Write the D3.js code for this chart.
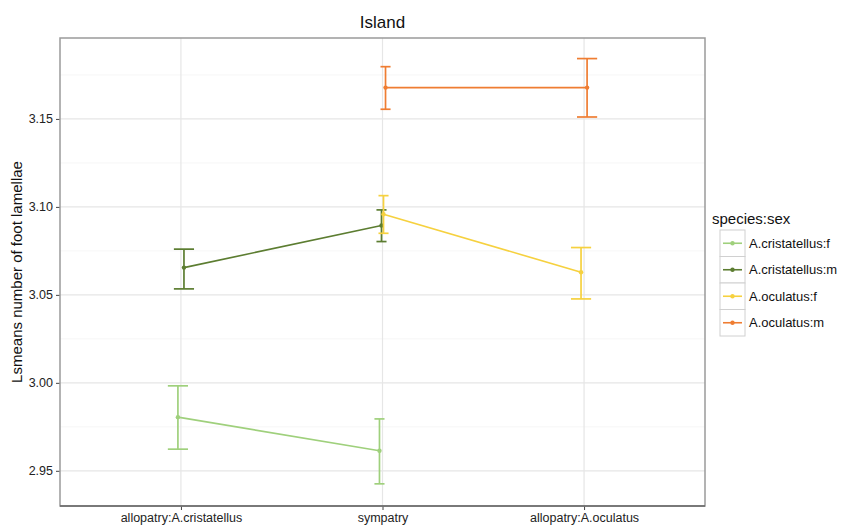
<!DOCTYPE html>
<html>
<head>
<meta charset="utf-8">
<script src="https://cdnjs.cloudflare.com/ajax/libs/d3/7.8.5/d3.min.js"></script>
<style>
body { margin: 0; background: #fff; }
text { font-family: "Liberation Sans", Arial, sans-serif; }
</style>
</head>
<body>
<script>
// categories on the x axis
var sites = ["allopatry:A.cristatellus", "sympatry", "allopatry:A.oculatus"];
// legend groups
var groups = ["A.cristatellus:f", "A.cristatellus:m", "A.oculatus:f", "A.oculatus:m"];
var groupColors = ["#9fd07c", "#5c7d31", "#f6d13f", "#ef7d32"];
// lsmeans and error bar ends, per group (null = not present at that site)
var cfMean = [2.9805, 2.9614, null];
var cfLow  = [2.9623, 2.9426, null];
var cfHigh = [2.9983, 2.9795, null];
var cmMean = [3.0655, 3.0894, null];
var cmLow  = [3.0534, 3.0803, null];
var cmHigh = [3.0760, 3.0983, null];
var ofMean = [null, 3.0958, 3.0629];
var ofLow  = [null, 3.0850, 3.0477];
var ofHigh = [null, 3.1064, 3.0769];
var omMean = [null, 3.1678, 3.1678];
var omLow  = [null, 3.1555, 3.1511];
var omHigh = [null, 3.1797, 3.1843];
var yTicks = [2.95, 3.00, 3.05, 3.10, 3.15];
var yMinor = [2.975, 3.025, 3.075, 3.125, 3.175];

var W = 844, H = 525;
// panel edges (note: "top" is taken by window.top)
var pLeft = 60, pRight = 705, pTop = 38, pBottom = 506;

var means = [cfMean, cmMean, ofMean, omMean];
var lows = [cfLow, cmLow, ofLow, omLow];
var highs = [cfHigh, cmHigh, ofHigh, omHigh];

// build rows for drawing
var series = [];
for (var g = 0; g < groups.length; g++) {
    var pts = [];
    for (var s = 0; s < sites.length; s++) {
        if (means[g][s] == null) continue;
        pts.push({site: sites[s], mean: means[g][s], low: lows[g][s], high: highs[g][s], g: g});
    }
    series.push({name: groups[g], color: groupColors[g], pts: pts});
}
// groups present at each site (for the small dodge)
var present = {};
sites.forEach(function(s, i){
    present[s] = [];
    for (var g = 0; g < groups.length; g++) if (means[g][i] != null) present[s].push(g);
});

var svg = d3.select("body").append("svg")
    .attr("width", W)
    .attr("height", H);

var x = d3.scalePoint().domain(sites).range([pLeft, pRight]).padding(0.6);
var y = d3.scaleLinear().domain([2.930, 3.196]).range([pBottom, pTop]);
var step = x.step();

function dodgeX(d) {
    var list = present[d.site];
    var k = list.indexOf(d.g);
    var w = 0.03 * step;
    var off = list.length > 1 ? (k / (list.length - 1) - 0.5) * w : 0;
    return x(d.site) + off;
}
function capW(d) {
    return 0.2 * step / present[d.site].length / 2;
}

// grid
svg.selectAll(".minor").data(yMinor).enter().append("line")
    .attr("x1", pLeft).attr("x2", pRight)
    .attr("y1", function(d){ return y(d); }).attr("y2", function(d){ return y(d); })
    .attr("stroke", "#f4f4f4").attr("stroke-width", 0.8);
svg.selectAll(".major").data(yTicks).enter().append("line")
    .attr("x1", pLeft).attr("x2", pRight)
    .attr("y1", function(d){ return y(d); }).attr("y2", function(d){ return y(d); })
    .attr("stroke", "#e6e6e6").attr("stroke-width", 1.2);
svg.selectAll(".vgrid").data(sites).enter().append("line")
    .attr("x1", function(d){ return x(d); }).attr("x2", function(d){ return x(d); })
    .attr("y1", pTop).attr("y2", pBottom)
    .attr("stroke", "#e6e6e6").attr("stroke-width", 1.2);

// axes
var yAxis = svg.append("g")
    .attr("transform", "translate(" + pLeft + ",0)")
    .call(d3.axisLeft(y).tickValues(yTicks).tickFormat(d3.format(".2f")).tickSize(4).tickPadding(3));
var xAxis = svg.append("g")
    .attr("transform", "translate(0," + pBottom + ")")
    .call(d3.axisBottom(x).tickSize(4).tickPadding(3));
[yAxis, xAxis].forEach(function(a){
    a.select(".domain").remove();
    a.selectAll("line").attr("stroke", "#444");
    a.selectAll("text").attr("fill", "#222").style("font-size", "12.5px")
        .style("font-family", "'Liberation Sans', Arial, sans-serif");
});

// panel border
svg.append("rect")
    .attr("x", pLeft).attr("y", pTop)
    .attr("width", pRight - pLeft).attr("height", pBottom - pTop)
    .attr("fill", "none").attr("stroke", "#9a9a9a").attr("stroke-width", 1.5);
svg.append("line")
    .attr("x1", pLeft).attr("x2", pRight).attr("y1", pBottom).attr("y2", pBottom)
    .attr("stroke", "#666").attr("stroke-width", 1.5);

// series
var line = d3.line().x(dodgeX).y(function(d){ return y(d.mean); });
var sg = svg.selectAll(".series").data(series).enter().append("g");

sg.append("path")
    .attr("d", function(d){ return line(d.pts); })
    .attr("fill", "none")
    .attr("stroke", function(d){ return d.color; })
    .attr("stroke-width", 1.6);

sg.each(function(sd){
    var gsel = d3.select(this);
    var bars = gsel.selectAll(".eb").data(sd.pts).enter().append("g")
        .attr("stroke", sd.color).attr("stroke-width", 1.7);
    bars.append("line")   // vertical part
        .attr("x1", dodgeX).attr("x2", dodgeX)
        .attr("y1", function(d){ return y(d.low); })
        .attr("y2", function(d){ return y(d.high); });
    bars.append("line")   // top cap
        .attr("x1", function(d){ return dodgeX(d) - capW(d); })
        .attr("x2", function(d){ return dodgeX(d) + capW(d); })
        .attr("y1", function(d){ return y(d.high); })
        .attr("y2", function(d){ return y(d.high); });
    bars.append("line")   // bottom cap
        .attr("x1", function(d){ return dodgeX(d) - capW(d); })
        .attr("x2", function(d){ return dodgeX(d) + capW(d); })
        .attr("y1", function(d){ return y(d.low); })
        .attr("y2", function(d){ return y(d.low); });
    gsel.selectAll("circle").data(sd.pts).enter().append("circle")
        .attr("cx", dodgeX)
        .attr("cy", function(d){ return y(d.mean); })
        .attr("r", 2.2)
        .attr("fill", sd.color);
});

// title and axis label
svg.append("text")
    .attr("x", (pLeft + pRight) / 2).attr("y", 28)
    .attr("text-anchor", "middle")
    .style("font-size", "17px").attr("fill", "#111")
    .text("Island");
svg.append("text")
    .attr("transform", "translate(22," + ((pTop + pBottom) / 2) + ") rotate(-90)")
    .attr("text-anchor", "middle")
    .style("font-size", "15px").attr("fill", "#111")
    .text("Lsmeans number of foot lamellae");

// legend
var lx = 720, ly = 230, kh = 26.5, kw = 25;
svg.append("text")
    .attr("x", lx - 8).attr("y", ly - 6)
    .style("font-size", "15px").attr("fill", "#111")
    .text("species:sex");
var leg = svg.selectAll(".leg").data(series).enter().append("g")
    .attr("transform", function(d, i){ return "translate(" + lx + "," + (ly + i * kh) + ")"; });
leg.append("rect")
    .attr("width", kw).attr("height", kh)
    .attr("fill", "#fff").attr("stroke", "#d0d0d0").attr("stroke-width", 1);
leg.append("line")
    .attr("x1", 3).attr("x2", kw - 3)
    .attr("y1", kh / 2).attr("y2", kh / 2)
    .attr("stroke", function(d){ return d.color; }).attr("stroke-width", 1.6);
leg.append("circle")
    .attr("cx", kw / 2).attr("cy", kh / 2).attr("r", 2.2)
    .attr("fill", function(d){ return d.color; });
leg.append("text")
    .attr("x", kw + 4).attr("y", kh / 2 + 4.5)
    .style("font-size", "13px").attr("fill", "#111")
    .text(function(d){ return d.name; });
</script>
</body>
</html>
